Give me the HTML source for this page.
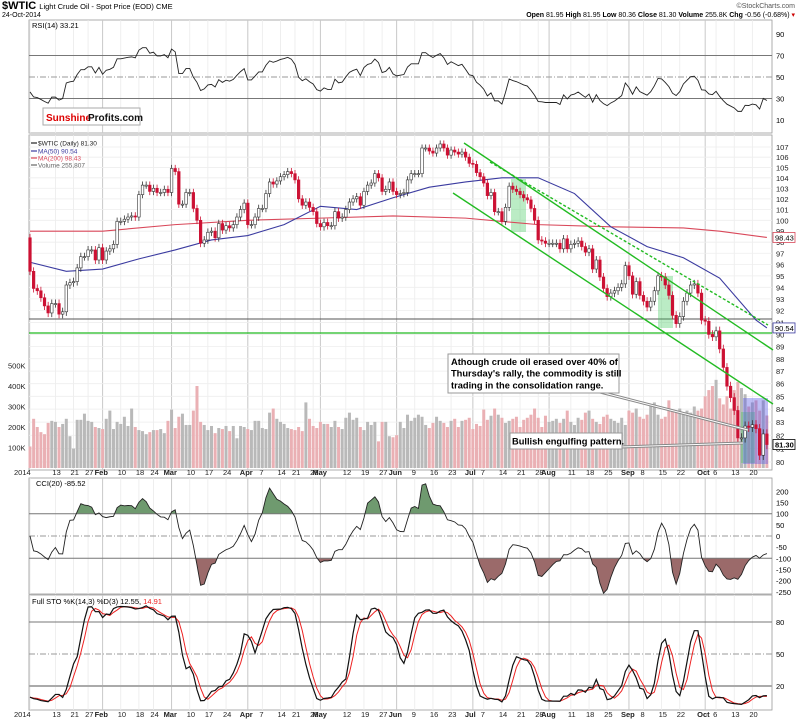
<!DOCTYPE html>
<html><head><meta charset="utf-8"><style>
body{margin:0;background:#fff;}
svg{display:block;font-family:"Liberation Sans",sans-serif;}
</style></head><body>
<svg id="c" width="800" height="722" viewBox="0 0 800 722" xmlns="http://www.w3.org/2000/svg">
<text x="2" y="9" font-size="11" font-weight="bold">$WTIC <tspan font-size="7.5" font-weight="normal">Light Crude Oil - Spot Price (EOD) CME</tspan></text>
<text x="2" y="17" font-size="7">24-Oct-2014</text>
<text x="795" y="8" font-size="7" fill="#555" text-anchor="end">©StockCharts.com</text>
<text x="795" y="17" font-size="7" text-anchor="end"><tspan font-weight="bold">Open</tspan> 81.95 <tspan font-weight="bold">High</tspan> 81.95 <tspan font-weight="bold">Low</tspan> 80.36 <tspan font-weight="bold">Close</tspan> 81.30 <tspan font-weight="bold">Volume</tspan> 255.8K <tspan font-weight="bold">Chg</tspan> -0.56 (-0.68%) <tspan fill="#c00">▾</tspan></text>
<g id="g"></g>
</svg>
<script>
const closes=[95.4,93.9,93.7,93.1,92.4,91.8,92.6,92.6,91.7,91.9,94.2,94.4,94.5,95.7,96.7,96.7,97.3,97.3,96.4,97.5,
96.4,97.2,97.4,97.8,99.9,99.9,100.1,100.3,100.4,100.3,102.4,103.3,103.3,102.7,103.0,102.6,102.6,102.9,102.6,
104.9,104.6,101.5,101.5,102.6,102.6,101.1,100.0,97.9,98.2,98.9,99.0,98.4,99.7,99.1,99.5,99.3,99.6,100.3,101.0,101.6,
99.6,99.6,100.3,101.1,101.1,102.5,103.6,103.4,103.7,104.1,104.3,104.6,104.4,103.8,102.0,101.4,101.7,101.2,100.8,99.7,
99.4,99.8,99.5,99.5,100.8,100.2,100.3,101.0,101.7,102.0,102.2,101.4,102.7,103.3,103.5,104.4,104.0,102.7,102.9,103.6,102.7,
102.4,102.5,102.6,103.8,104.4,104.4,104.4,106.9,106.9,106.6,106.4,106.9,107.3,106.9,106.2,106.7,106.5,106.3,106.5,106.0,105.4,
105.3,104.5,104.1,103.5,102.3,102.6,100.8,100.8,99.9,101.2,103.2,102.9,102.7,102.4,102.1,101.9,101.1,100.0,98.2,98.1,97.9,97.9,
97.9,97.9,97.4,98.3,97.4,97.8,97.9,98.1,97.6,97.1,97.4,95.6,96.4,94.9,93.9,93.2,93.5,93.7,94.0,94.3,95.9,
95.0,93.4,94.5,93.3,92.8,92.3,92.8,93.7,95.0,94.9,94.2,93.3,91.6,90.9,91.5,92.8,93.5,94.2,94.3,93.5,91.2,
91.1,90.0,89.8,90.3,88.8,87.3,85.8,84.9,83.9,81.8,81.8,82.7,82.6,82.8,82.5,80.5,82.1,81.3];
const firstOpen=98.4;
const volumesK=[105,240,200,175,165,220,230,225,200,215,240,155,95,235,235,265,230,225,200,195,
190,240,280,190,225,215,250,205,290,200,185,180,165,175,185,185,190,170,230,
285,195,250,265,210,210,280,400,225,210,185,205,170,195,190,205,180,205,145,205,200,
190,185,230,230,195,190,270,290,240,225,215,195,190,185,200,180,320,240,205,195,
225,215,215,200,230,200,190,245,270,235,245,200,185,225,210,225,130,225,225,155,150,
160,225,195,260,230,245,260,250,210,195,220,250,230,220,200,230,240,200,230,235,245,
190,215,205,285,235,255,290,260,245,220,230,240,250,200,235,245,260,290,245,200,255,225,
230,240,220,240,280,225,210,245,235,270,280,240,225,215,250,260,240,230,220,245,210,
280,270,290,250,240,260,310,320,260,240,250,330,280,275,290,265,280,270,300,280,290,
350,380,400,430,340,310,350,290,380,420,390,360,300,320,330,280,330,256];
const ma50Idx=[0,10,20,30,40,50,60,70,80,90,100,110,120,130,140,150,160,170,180,190,200,203];
const ma50Val=[96.2,95.4,95.6,96.5,97.3,98.2,98.6,99.6,101.3,101.0,102.1,103.1,103.6,104.0,104.0,102.5,99.4,97.6,96.6,94.8,91.2,90.54];
const ma200Idx=[0,20,40,60,80,100,120,140,160,180,190,203];
const ma200Val=[99.0,99.0,99.6,100.0,100.2,100.4,100.2,99.6,99.4,99.3,99.0,98.43];
const priceTicks=[80,81,82,83,84,85,86,87,88,89,90,91,92,93,94,95,96,97,98,99,100,101,102,103,104,105,106,107];
const volTicks=[100,200,300,400,500];
const rsiTicks=[10,30,50,70,90];
const cciTicks=[200,150,100,50,0,-50,-100,-150,-200,-250];
const stoTicks=[20,50,80];
const dateLabels=["2014","13","21","27","Feb","10","18","24","Mar","10","17","24","Apr","7","14","21","28","May","12","19","27","Jun","9","16","23","Jul","7","14","21","28","Aug","11","18","25","Sep","8","15","22","Oct","6","13","20"];
const dateIdx=[0,7,12,16,20,25,30,34,39,44,49,54,60,64,69,73,78,80,87,92,97,101,106,111,116,122,125,130,135,140,143,149,154,159,165,169,174,179,186,189,194,199];

const NS="http://www.w3.org/2000/svg";
const G=document.getElementById('g');
function mk(t,a,p){const e=document.createElementNS(NS,t);for(const k in a)e.setAttribute(k,a[k]);(p||G).appendChild(e);return e;}
const L=29,R=772;
const xi=i=>30+i*3.63;
const py=p=>147+(Math.log(107)-Math.log(p))/0.2908*315;
const vy=v=>468-v*0.205;
const rsiY=v=>120-(v-10)*1.075;
const cciY=v=>536-v*0.223;
const stoY=v=>686-(v-20)*32/30;
const N=closes.length;
const opens=closes.map((c,i)=>i?closes[i-1]:firstOpen);
const highs=closes.map((c,i)=>Math.max(c,opens[i])+0.35);
const lows=closes.map((c,i)=>Math.min(c,opens[i])-0.35);

const panels=[[20,133,'rsi-panel'],[135,470,'price-panel'],[478,594,'cci-panel'],[595,710,'sto-panel']];
panels.forEach(p=>{const r=mk('rect',{x:L,y:p[0],width:R-L,height:p[1]-p[0],fill:'#fff',stroke:'#999','stroke-width':0.8});
});
dateIdx.forEach((d,k)=>{const major=isNaN(+dateLabels[k]);
panels.forEach(p=>{const l=mk('line',{x1:xi(d),x2:xi(d),y1:p[0],y2:p[1],stroke:major?'#c8c8c8':'#ebebeb','stroke-width':major?1:0.8});
});});
[475,717].forEach(yy=>{dateIdx.forEach((d,k)=>{const major=isNaN(+dateLabels[k]);
const t=mk('text',{x:xi(d)+(k==0?-16:(major?-8:-3)),y:yy,'font-size':7.5,'font-weight':major?'bold':'normal',fill:'#222'});t.textContent=dateLabels[k];
});});
priceTicks.forEach(p=>{const l=mk('line',{x1:L,x2:R,y1:py(p),y2:py(p),stroke:'#eee','stroke-width':0.8});

const t=mk('text',{x:776,y:py(p)+3,'font-size':7.5,fill:'#222'});t.textContent=p;
});
volTicks.forEach(v=>{const t=mk('text',{x:8,y:vy(v)+3,'font-size':7.5,fill:'#222'});t.textContent=v+'K';
});
closes.forEach((c,i)=>{const up=c>=opens[i];const b=mk('rect',{x:xi(i)-1.5,y:vy(volumesK[i]),width:3,height:468-vy(volumesK[i]),fill:up?'#b9b9b9':'#eab0b4'});
});
let hl=mk('line',{x1:L,x2:R,y1:319,y2:319,stroke:'#555','stroke-width':1});
hl=mk('line',{x1:L,x2:R,y1:333,y2:333,stroke:'#22bb22','stroke-width':1.3});
[[511,179,15,53,'rgba(60,200,90,0.35)'],[658,276,15,52,'rgba(60,200,90,0.35)'],[741,412,14,51,'rgba(60,200,90,0.35)'],[743,398,25,66,'rgba(90,90,230,0.4)']].forEach(r=>{
const e=mk('rect',{x:r[0],y:r[1],width:r[2],height:r[3],fill:r[4]});});
function pl(idx,val,color,name){const pts=idx.map((d,k)=>xi(d)+','+py(val[k])).join(' ');
const e=mk('polyline',{points:pts,fill:'none',stroke:color,'stroke-width':1.1});}
pl(ma200Idx,ma200Val,'#d9485a','ma200-line');
pl(ma50Idx,ma50Val,'#3b3ba0','ma50-line');
closes.forEach((c,i)=>{const o=opens[i],up=c>=o,x=xi(i);
const w=mk('line',{x1:x,x2:x,y1:py(highs[i]),y2:py(lows[i]),stroke:up?'#333':'#cc1133','stroke-width':0.8});

const top=py(Math.max(o,c)),h=Math.max(1,py(Math.min(o,c))-top);
const b=mk('rect',{x:x-1.3,y:top,width:2.6,height:h,fill:up?'#fff':'#cc1133',stroke:up?'#333':'#cc1133','stroke-width':0.6});
});
[[464,143,773,350,''],[490,162,768,325,'3,2'],[453,193,773,404,'']].forEach(t=>{const e=mk('line',{x1:t[0],y1:t[1],x2:t[2],y2:t[3],stroke:'#22bb22','stroke-width':1.4,'stroke-dasharray':t[4]});
});
let e=mk('polyline',{points:'600,392 748,430',stroke:'#888','stroke-width':3,fill:'none'});
e=mk('polyline',{points:'600,392 748,430',stroke:'#fff','stroke-width':1,fill:'none'});
e=mk('polyline',{points:'620,447 743,443',stroke:'#888','stroke-width':3,fill:'none'});
e=mk('polyline',{points:'620,447 743,443',stroke:'#fff','stroke-width':1,fill:'none'});
e=mk('rect',{x:448,y:354,width:171,height:39,fill:'#fff',stroke:'#999'});
['Athough crude oil erased over 40% of',"Thursday's rally, the commodity is still",'trading in the consolidation range.'].forEach((s,k)=>{
const t=mk('text',{x:451,y:365+k*11.7,'font-size':9.3,'font-weight':'bold'});t.textContent=s;});
e=mk('rect',{x:510,y:433,width:112,height:16,fill:'#fff',stroke:'#999'});
e=mk('text',{x:512,y:444.5,'font-size':9.3,'font-weight':'bold'});e.textContent='Bullish engulfing pattern.';
[['$WTIC (Daily) 81.30','#222',145],['MA(50) 90.54','#3b3ba0',153],['MA(200) 98.43','#d9485a',160],['Volume 255,807','#666',167]].forEach(l=>{
const t=mk('text',{x:38,y:l[2]+0.5,'font-size':6.5,fill:l[1]});t.textContent=l[0];
const m=mk('line',{x1:31,x2:37,y1:l[2]-2,y2:l[2]-2,stroke:l[1],'stroke-width':1.2});});
[[98.43,'98.43','#d9485a'],[90.54,'90.54','#3b3ba0'],[81.3,'81.30','#000']].forEach(v=>{
const r=mk('rect',{x:773,y:py(v[0])-5,width:22,height:10,fill:'#fff',stroke:v[2],'stroke-width':0.8});
const t=mk('text',{x:775,y:py(v[0])+3,'font-size':7.5,'font-weight':v[1]=='81.30'?'bold':'normal'});t.textContent=v[1];});
e=mk('rect',{x:43,y:108,width:97,height:17,fill:'#fff',stroke:'#aaa'});
e=mk('text',{x:46,y:121,'font-size':10,'font-weight':'bold',fill:'#d00'});e.textContent='Sunshine';
e=mk('text',{x:88,y:121,'font-size':10,'font-weight':'bold',fill:'#111'});e.textContent='Profits.com';

const rsi=[];{let ag=0.3,al=0.3;for(let i=0;i<N;i++){const ch=i?closes[i]-closes[i-1]:closes[0]-firstOpen;ag=(ag*13+Math.max(ch,0))/14;al=(al*13+Math.max(-ch,0))/14;rsi.push(100-100/(1+ag/al));}}
const cci=[];for(let i=0;i<N;i++){const s=Math.max(0,i-19);const tp=[];for(let j=s;j<=i;j++)tp.push((highs[j]+lows[j]+closes[j])/3);
const m=tp.reduce((a,b)=>a+b)/tp.length;const md=tp.reduce((a,b)=>a+Math.abs(b-m),0)/tp.length||1;cci.push(Math.max(-260,Math.min(240,(tp[tp.length-1]-m)/(0.015*md))));}
const rawK=[];for(let i=0;i<N;i++){const s=Math.max(0,i-13);let hh=-1e9,ll=1e9;for(let j=s;j<=i;j++){hh=Math.max(hh,highs[j]);ll=Math.min(ll,lows[j]);}rawK.push(100*(closes[i]-ll)/(hh-ll||1));}
const sma=(a,n)=>a.map((v,i)=>{const s=Math.max(0,i-n+1);let t=0;for(let j=s;j<=i;j++)t+=a[j];return t/(i-s+1);});
const kF=sma(rawK,3),dF=sma(kF,3);

[[70,'#777',''],[50,'#999','6,2,1,2'],[30,'#777','']].forEach(h=>{const l=mk('line',{x1:L,x2:R,y1:rsiY(h[0]),y2:rsiY(h[0]),stroke:h[1],'stroke-width':1,'stroke-dasharray':h[2]});});
rsiTicks.forEach(v=>{const t=mk('text',{x:776,y:rsiY(v)+3,'font-size':7.5});t.textContent=v;});
e=mk('polyline',{points:rsi.map((v,i)=>xi(i)+','+rsiY(v)).join(' '),fill:'none',stroke:'#222','stroke-width':0.9});
e=mk('text',{x:32,y:28,'font-size':7.5});e.textContent='RSI(14) 33.21';

const defs=mk('defs',{});
const c1=mk('clipPath',{id:'cUp'},defs);mk('rect',{x:L,y:478,width:R-L,height:cciY(100)-478},c1);
const c2=mk('clipPath',{id:'cDn'},defs);mk('rect',{x:L,y:cciY(-100),width:R-L,height:594-cciY(-100)},c2);
const cpts=cci.map((v,i)=>xi(i)+','+cciY(v)).join(' ');
e=mk('polygon',{points:xi(0)+','+cciY(100)+' '+cpts+' '+xi(N-1)+','+cciY(100),fill:'#6f9a6f','clip-path':'url(#cUp)'});
e=mk('polygon',{points:xi(0)+','+cciY(-100)+' '+cpts+' '+xi(N-1)+','+cciY(-100),fill:'#9b6a6a','clip-path':'url(#cDn)'});
[[100,'#777',''],[0,'#999','6,2,1,2'],[-100,'#777','']].forEach(h=>{const l=mk('line',{x1:L,x2:R,y1:cciY(h[0]),y2:cciY(h[0]),stroke:h[1],'stroke-width':1,'stroke-dasharray':h[2]});});
e=mk('polyline',{points:cpts,fill:'none',stroke:'#222','stroke-width':0.9});
cciTicks.forEach(v=>{const t=mk('text',{x:776,y:cciY(v)+3,'font-size':7.5});t.textContent=v;});
e=mk('text',{x:36,y:486,'font-size':7.5});e.textContent='CCI(20) -85.52';

[[80,'#777',''],[50,'#999','6,2,1,2'],[20,'#aaa','']].forEach(h=>{const l=mk('line',{x1:L,x2:R,y1:stoY(h[0]),y2:stoY(h[0]),stroke:h[1],'stroke-width':h[0]==20?2:1,'stroke-dasharray':h[2]});});
e=mk('polyline',{points:dF.map((v,i)=>xi(i)+','+stoY(v)).join(' '),fill:'none',stroke:'#e22','stroke-width':1});
e=mk('polyline',{points:kF.map((v,i)=>xi(i)+','+stoY(v)).join(' '),fill:'none',stroke:'#111','stroke-width':1.2});
stoTicks.forEach(v=>{const t=mk('text',{x:776,y:stoY(v)+3,'font-size':7.5});t.textContent=v;});
e=mk('text',{x:32,y:604,'font-size':7.5});e.innerHTML='Full STO %K(14,3) %D(3) 12.55, <tspan fill="#e22">14.91</tspan>';
</script>
</body></html>
